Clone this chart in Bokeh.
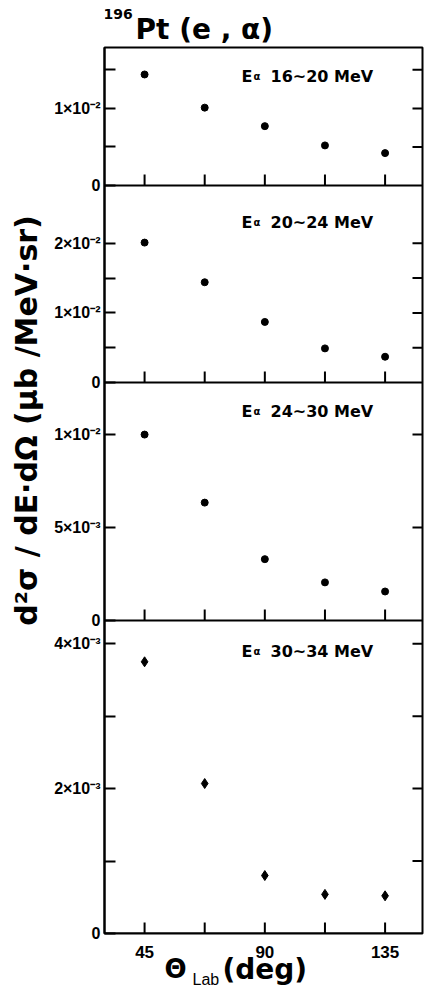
import math
from bokeh.plotting import figure
from bokeh.models import Range1d, FixedTicker, Label, Span, CustomJSTickFormatter
from bokeh.core.properties import value
from bokeh.layouts import column, row
from bokeh.embed import file_html
from bokeh.resources import INLINE

# ---------------- data ----------------
theta = [45, 67.5, 90, 112.5, 135]
sigma_16_20 = [1.44e-2, 1.01e-2, 0.77e-2, 0.52e-2, 0.42e-2]
sigma_20_24 = [2.01e-2, 1.44e-2, 0.87e-2, 0.49e-2, 0.37e-2]
sigma_24_30 = [1.00e-2, 0.634e-2, 0.33e-2, 0.205e-2, 0.156e-2]
sigma_30_34 = [3.75e-3, 2.07e-3, 0.80e-3, 0.54e-3, 0.52e-3]
energy_bins = ["16~20", "20~24", "24~30", "30~34"]
y_max = [0.0179, 0.0283, 0.0128, 0.00432]
y_major = [[0, 0.01], [0, 0.01, 0.02], [0, 0.005, 0.01], [0, 0.002, 0.004]]
y_major_labels = [["0", "1×10⁻²"], ["0", "1×10⁻²", "2×10⁻²"],
                  ["0", "5×10⁻³", "1×10⁻²"], ["0", "2×10⁻³", "4×10⁻³"]]
y_minor = [[0.005, 0.015], [0.005, 0.015], [], [0.001, 0.003]]
x_major = [45, 90, 135]
x_major_labels = ["45", "90", "135"]
x_minor = [67.5, 112.5]
title_iso = "196"
title_text = "Pt (e , α)"
y_title = "d²σ / dE·dΩ (μb /MeV·sr)"

series = [sigma_16_20, sigma_20_24, sigma_24_30, sigma_30_34]
markers = ["circle", "circle", "circle", "diamond"]
marker_sizes = [7, 7, 7, 10]

# ---------------- layout (panel heights, px, top to bottom) ----------------
panel_px = [138, 197, 238, 313]
total = sum(panel_px)
tops, bottoms = [], []
acc = total
for h in panel_px:
    tops.append(acc / total)
    acc -= h
    bottoms.append(acc / total)

ann_frac = [0.79, 0.812, 0.88, 0.902]

FONT = "Liberation Sans"
WFONT = "DejaVu Sans"
TOP_H = 45
MAIN_H = 2 + total + 10
BOT_H = 989 - TOP_H - MAIN_H

def bare(fig):
    fig.grid.visible = False
    fig.outline_line_color = None
    fig.background_fill_color = "white"
    fig.border_fill_color = "white"
    return fig

# ---------------- main figure ----------------
xr = Range1d(30, 149)
p = figure(width=376, height=MAIN_H, x_range=xr, y_range=Range1d(0, 1),
           output_backend="svg", toolbar_location=None, x_axis_location=None,
           min_border_left=54, min_border_right=4, min_border_top=2,
           min_border_bottom=10)
p.grid.visible = False
p.outline_line_color = "black"
p.outline_line_width = 2
p.background_fill_color = "white"
p.border_fill_color = "white"

tick_pos, tick_lab, minor_pos = [], [], []
xt = x_major + x_minor
for i in range(4):
    b, t = bottoms[i], tops[i]
    ym = y_max[i]
    name = f"p{i}"
    p.extra_y_ranges[name] = Range1d(-ym * b / (t - b), ym * (1 - b) / (t - b))
    for v, lab in zip(y_major[i], y_major_labels[i]):
        tick_pos.append(b + v / ym * (t - b))
        tick_lab.append(lab)
    for v in y_minor[i]:
        minor_pos.append(b + v / ym * (t - b))

    p.scatter(theta, series[i], y_range_name=name, marker=markers[i],
              size=marker_sizes[i], color="black")

    # inward ticks on the right edge
    rt = [v for v in y_major[i] + y_minor[i] if v > 0]
    p.ray(x=[xr.end] * len(rt), y=rt, y_range_name=name, length=10,
          length_units="screen", angle=math.pi, line_color="black", line_width=2)

    # inward theta ticks on the bottom edge of each panel
    p.ray(x=xt, y=[0] * len(xt), y_range_name=name, length=11,
          length_units="screen", angle=math.pi / 2, line_color="black",
          line_width=2)
    p.add_layout(Span(location=0, dimension="width", y_range_name=name,
                      line_color="black", line_width=2))

    ay = ym * ann_frac[i]
    p.add_layout(Label(x=xr.start, y=ay, y_range_name=name, x_offset=137, text="E",
                       text_font=WFONT, text_font_style="bold", text_baseline="alphabetic",
                       text_font_size="16px", text_color="black"))
    p.add_layout(Label(x=xr.start, y=ay, y_range_name=name, x_offset=149,
                       text="α", text_font=WFONT, text_font_style="bold",
                       text_baseline="alphabetic",
                       text_font_size="10px", text_color="black"))
    p.add_layout(Label(x=xr.start, y=ay, y_range_name=name, x_offset=166,
                       text=energy_bins[i] + "  MeV", text_font=WFONT,
                       text_font_style="bold", text_font_size="16px",
                       text_baseline="alphabetic", text_color="black"))

yfmt = CustomJSTickFormatter(args=dict(pos=tick_pos, labels=tick_lab), code="""
let best = 0;
for (let i = 0; i < pos.length; i++) {
  if (Math.abs(pos[i] - tick) < Math.abs(pos[best] - tick)) best = i;
}
return labels[best];
""")

yl = p.yaxis[0]
yl.ticker = FixedTicker(ticks=tick_pos, minor_ticks=minor_pos)
yl.formatter = yfmt
yl.axis_line_color = "black"
yl.axis_line_width = 2
yl.major_tick_line_color = "black"
yl.minor_tick_line_color = "black"
yl.major_tick_line_width = 2
yl.minor_tick_line_width = 2
yl.major_tick_in = 11
yl.major_tick_out = 0
yl.minor_tick_in = 11
yl.minor_tick_out = 0
yl.major_label_text_font = FONT
yl.major_label_text_font_style = "bold"
yl.major_label_text_font_size = "16px"
yl.major_label_text_color = "black"
yl.major_label_standoff = 4

# ---------------- title strip (y = page pixels) ----------------
top = bare(figure(width=426, height=TOP_H, x_range=xr,
                  y_range=Range1d(TOP_H, 0), output_backend="svg",
                  toolbar_location=None, x_axis_location=None,
                  y_axis_location=None, min_border_left=104,
                  min_border_right=4, min_border_top=0, min_border_bottom=0))
top.add_layout(Label(x=xr.start, y=13, x_offset=-1, text=title_iso, text_font=WFONT,
                     text_font_style="bold", text_font_size="14px",
                     text_baseline="alphabetic", text_color="black"))
top.add_layout(Label(x=xr.start, y=29, x_offset=31, text=title_text, text_font=WFONT,
                     text_font_style="bold", text_font_size="28px",
                     text_baseline="alphabetic", text_color="black"))

# ---------------- y title strip ----------------
left = bare(figure(width=50, height=MAIN_H, x_range=Range1d(0, 50),
                   y_range=Range1d(TOP_H + MAIN_H, TOP_H), output_backend="svg",
                   toolbar_location=None, x_axis_location=None,
                   y_axis_location=None, min_border=0))
left.add_layout(Label(x=26, y=423, text=y_title, angle=math.pi / 2,
                      text_align="center", text_baseline="middle",
                      text_font=WFONT, text_font_style="bold",
                      text_font_size="30px", text_color="black"))

# ---------------- x tick labels and title strip ----------------
y0 = TOP_H + MAIN_H
bot = bare(figure(width=426, height=BOT_H, x_range=xr,
                  y_range=Range1d(989, y0), output_backend="svg",
                  toolbar_location=None, x_axis_location=None,
                  y_axis_location=None, min_border_left=104,
                  min_border_right=4, min_border_top=0, min_border_bottom=0))
bot.text(x=x_major, y=[y0 + 2] * len(x_major), text=x_major_labels,
         text_align="center", text_baseline="top",
         text_font=value(FONT), text_font_style="bold",
         text_font_size="17px", text_color="black")
bot.add_layout(Label(x=xr.start, y=968, x_offset=60, text="Θ", text_font=WFONT,
                     text_font_style="bold", text_font_size="26px",
                     text_baseline="alphabetic", text_color="black"))
bot.add_layout(Label(x=xr.start, y=979, x_offset=88, text="Lab", text_font=FONT,
                     text_font_size="16px", text_baseline="alphabetic",
                     text_color="black"))
bot.add_layout(Label(x=xr.start, y=969, x_offset=118, text="(deg)", text_font=WFONT,
                     text_font_style="bold", text_font_size="28px",
                     text_baseline="alphabetic", text_color="black"))

layout = column(top, row(left, p), bot)
open("out.html", "w").write(file_html(layout, INLINE))
